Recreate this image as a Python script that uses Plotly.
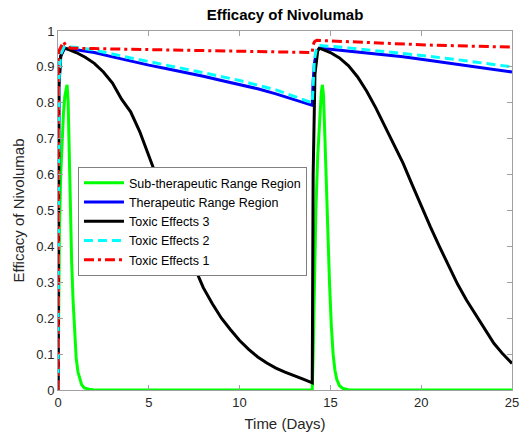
import plotly.graph_objects as go

# Sub-therapeutic Range Region (green)
t_sub = [0, 0.03, 0.08, 0.15, 0.22, 0.3, 0.38, 0.45, 0.5, 0.56, 0.62, 0.68, 0.75, 0.83, 0.9, 1.0, 1.1, 1.2, 1.3, 1.45, 1.7, 2.0,
         14.0, 14.05, 14.12, 14.2, 14.3, 14.4, 14.5, 14.56, 14.62, 14.7, 14.78, 14.86, 14.95, 15.05, 15.15, 15.25, 15.35, 15.5, 15.7, 16.0, 25.0]
v_sub = [0, 0.2, 0.45, 0.6, 0.7, 0.77, 0.82, 0.845, 0.85, 0.8, 0.66, 0.5, 0.36, 0.25, 0.17, 0.09, 0.05, 0.028, 0.015, 0.006, 0.002, 0,
         0, 0.1, 0.3, 0.5, 0.65, 0.76, 0.83, 0.85, 0.82, 0.7, 0.56, 0.44, 0.3, 0.18, 0.1, 0.055, 0.03, 0.012, 0.004, 0.001, 0]

# Therapeutic Range Region (blue)
t_ther = [0, 0.01, 0.05, 0.15, 0.35, 1, 2, 3, 4, 5, 6, 7, 8, 9, 10, 11, 12, 13, 14,
          14.0, 14.05, 14.12, 14.22, 14.38, 15, 16, 17, 18, 19, 20, 21, 22, 23, 24, 25]
v_ther = [0, 0.6, 0.85, 0.93, 0.951, 0.948, 0.94, 0.928, 0.916, 0.905, 0.895, 0.885, 0.874, 0.862, 0.851, 0.839, 0.825, 0.81, 0.793,
          0.793, 0.86, 0.91, 0.94, 0.952, 0.949, 0.944, 0.939, 0.934, 0.928, 0.921, 0.914, 0.907, 0.9, 0.893, 0.886]

# Toxic Effects 3 (black)
t_tox3 = [0, 0.01, 0.05, 0.15, 0.3, 0.4, 1, 1.5, 2, 2.5, 3, 3.5, 4, 4.5, 5, 5.5, 6, 6.5, 7, 7.5, 8, 8.5, 9, 9.5,
          10, 10.5, 11, 11.5, 12, 12.5, 13, 13.5, 14,
          14.0, 14.05, 14.15, 14.3, 14.4, 15, 15.5, 16, 16.5, 17, 17.5, 18, 18.5, 19, 19.5, 20, 20.5, 21, 21.5,
          22, 22.5, 23, 23.5, 24, 24.5, 25]
v_tox3 = [0, 0.6, 0.85, 0.93, 0.948, 0.952, 0.94, 0.927, 0.91, 0.886, 0.855, 0.81, 0.775, 0.72, 0.65, 0.585, 0.52, 0.46, 0.4, 0.34,
          0.285, 0.24, 0.2, 0.168, 0.138, 0.113, 0.092, 0.075, 0.061, 0.05, 0.041, 0.03, 0.02,
          0.02, 0.6, 0.88, 0.945, 0.952, 0.94, 0.925, 0.903, 0.872, 0.832, 0.786, 0.735, 0.685, 0.632, 0.572, 0.512, 0.455,
          0.40, 0.346, 0.295, 0.25, 0.21, 0.168, 0.13, 0.1, 0.074]

# Toxic Effects 2 (cyan)
t_tox2 = [0, 0.01, 0.05, 0.15, 0.35, 1, 2, 4, 6, 8, 10, 12, 14,
          14.0, 14.05, 14.12, 14.22, 14.38, 16, 18, 20, 22, 24, 25]
v_tox2 = [0, 0.6, 0.86, 0.935, 0.957, 0.954, 0.947, 0.925, 0.905, 0.884, 0.862, 0.836, 0.80,
          0.80, 0.87, 0.92, 0.948, 0.96, 0.953, 0.943, 0.932, 0.92, 0.906, 0.9]

# Toxic Effects 1 (red)
t_tox1 = [0, 0.01, 0.06, 0.2, 0.3, 0.45, 0.7, 2, 6, 10, 14,
          14.0, 14.04, 14.12, 14.25, 15, 18, 20.3, 25]
v_tox1 = [0, 0.93, 0.945, 0.962, 0.97, 0.958, 0.952, 0.951, 0.948, 0.944, 0.94,
          0.94, 0.96, 0.97, 0.974, 0.972, 0.966, 0.961, 0.955]

x_ticks = [0, 5, 10, 15, 20, 25]
y_ticks = [0, 0.1, 0.2, 0.3, 0.4, 0.5, 0.6, 0.7, 0.8, 0.9, 1]
y_ticklabels = ["0", "0.1", "0.2", "0.3", "0.4", "0.5", "0.6", "0.7", "0.8", "0.9", "1"]

FONT = "Liberation Sans, Arial, Helvetica, sans-serif"
W = 3

fig = go.Figure()
fig.add_trace(go.Scatter(x=t_sub, y=v_sub, mode="lines", name="Sub-therapeutic Range Region",
                         line=dict(color="#00ff00", width=W)))
fig.add_trace(go.Scatter(x=t_ther, y=v_ther, mode="lines", name="Therapeutic Range Region",
                         line=dict(color="#0000ff", width=W)))
fig.add_trace(go.Scatter(x=t_tox3, y=v_tox3, mode="lines", name="Toxic Effects 3",
                         line=dict(color="#000000", width=W)))
fig.add_trace(go.Scatter(x=t_tox2, y=v_tox2, mode="lines", name="Toxic Effects 2",
                         line=dict(color="#00ffff", width=W, dash="9px,5px")))
fig.add_trace(go.Scatter(x=t_tox1, y=v_tox1, mode="lines", name="Toxic Effects 1",
                         line=dict(color="#ff0000", width=W, dash="10px,4px,3px,4px")))

axis_common = dict(showline=True, linecolor="#a0a0a0", linewidth=1, mirror="ticks",
                   ticks="inside", ticklen=5, tickcolor="#a0a0a0", showgrid=False, zeroline=False,
                   automargin=False,
                   tickfont=dict(family=FONT, size=13, color="#262626"))

fig.update_layout(
    width=523, height=436,
    autosize=False,
    margin=dict(l=58, r=11, t=31, b=46, autoexpand=False),
    paper_bgcolor="white", plot_bgcolor="white",
    title=dict(text="<b>Efficacy of Nivolumab</b>", x=(58 + 512) / 2 / 523, xanchor="center",
               y=1 - 15 / 436, yanchor="middle", font=dict(family=FONT, size=15, color="black")),
    xaxis=dict(range=[0, 25], tickvals=x_ticks, ticktext=[str(v) for v in x_ticks],
               title=dict(text="Time (Days)", font=dict(family=FONT, size=15, color="#262626"), standoff=9),
               **axis_common),
    yaxis=dict(range=[0, 1], tickvals=y_ticks, ticktext=y_ticklabels,
               title=dict(text="Efficacy of Nivolumab", font=dict(family=FONT, size=15, color="#262626"), standoff=8),
               **axis_common),
    legend=dict(x=0.044, y=0.621, xanchor="left", yanchor="top",
                bgcolor="white", bordercolor="#808080", borderwidth=1,
                font=dict(family=FONT, size=12.5, color="black"),
                tracegroupgap=0, itemwidth=40),
    showlegend=True,
)

fig.write_html("out.html")
